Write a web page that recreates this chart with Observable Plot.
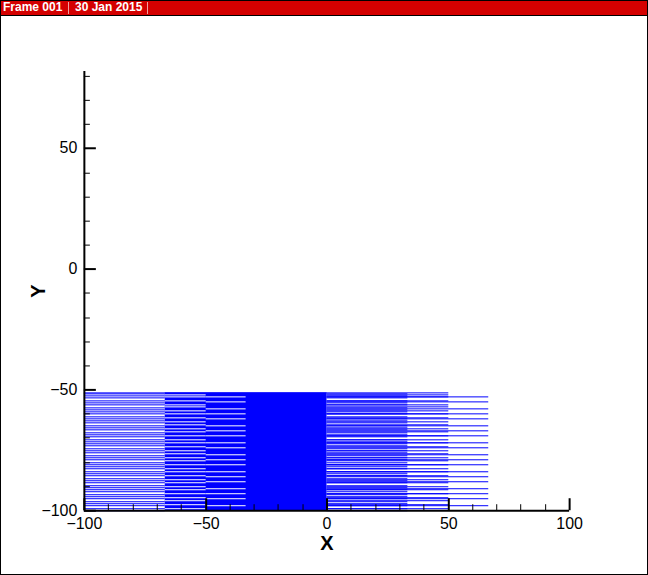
<!DOCTYPE html>
<html><head><meta charset="utf-8">
<script src="https://cdn.jsdelivr.net/npm/d3@7"></script>
<script src="https://cdn.jsdelivr.net/npm/@observablehq/plot@0.6"></script>
<style>
html,body{margin:0;padding:0;background:#fff;}
#frame{position:relative;width:648px;height:575px;box-sizing:border-box;border:1px solid #000;overflow:hidden;font-family:"Liberation Sans",Arial,sans-serif;}
#chart{position:absolute;left:-1px;top:-1px;}
#bar{position:absolute;left:-1px;top:-1px;width:648px;height:15px;background:#d40000;border-bottom:1px solid #000;color:#fff;font-weight:bold;font-size:12px;line-height:15px;white-space:nowrap;}
#bar span{position:absolute;top:0;}
#bar .sep{top:2px;width:0;height:12px;border-left:1px solid #f2a0a0;}
</style></head><body>
<div id="frame"><div id="chart"></div>
<div id="bar"><span style="left:3px">Frame 001</span><span class="sep" style="left:68px"></span><span style="left:75px">30 Jan 2015</span><span class="sep" style="left:147px"></span></div>
</div>
<script>
// mesh block edges along X (zones)
const meshX = [-100, -66.7, -50, -33.3, 0, 33.3, 50, 66.7];
const meshTop = -51;
const meshBottom = -100;
// horizontal mesh lines (Y)
const yFine = [-51.5,-52.5,-53.4,-54.3,-55.3,-56.2,-57.2,-58.1,-59.1,-60.0,-61.0,-61.9,-62.9,-63.8,-64.8,-65.7,-66.7,-67.6,-68.6,-69.5,-70.5,-71.4,-72.4,-73.3,-74.3,-75.2,-76.2,-77.1,-78.1,-79.0,-80.0,-80.9,-81.9,-82.8,-83.8,-84.7,-85.7,-86.6,-87.6,-88.5,-89.5,-90.4,-91.4,-92.3,-93.3,-94.2,-95.2,-96.1,-97.1,-98.0,-99.0,-99.9];
const yMid = [-52,-53,-54.5,-56,-57,-58.5,-60,-61.5,-63,-64.5,-66,-67.5,-69,-70.5,-72,-73.5,-75,-76.5,-78,-79.5,-81,-82.5,-84,-85.5,-87,-88.5,-90,-91.5,-93,-94.5,-96,-97.5,-99];
const yCoarse = [-53,-55,-58,-60,-62,-65,-67,-69,-72,-74,-77,-79,-81,-84,-86,-88,-91,-93,-95,-98];
// axis ticks
const xMajor = [-100, -50, 0, 50, 100];
const xMinor = [-90,-80,-70,-60,-40,-30,-20,-10,10,20,30,40,60,70,80,90];
const yMajor = [-100, -50, 0, 50];
const yMinor = [-90,-80,-70,-60,-40,-30,-20,-10,10,20,30,40,60,70,80];
const xTitle = "X", yTitle = "Y";

const blue = "#0000ff";
const solid = [{x1: meshX[1], x2: meshX[4], y1: meshBottom, y2: meshTop}];

const chart = Plot.plot({
  width: 648, height: 575,
  marginLeft: 84, marginRight: 78, marginTop: 71, marginBottom: 64,
  x: {domain: [-100, 100], round: true},
  y: {domain: [-100, 82], round: true},
  style: {fontFamily: "'Liberation Sans', Arial, sans-serif", fontSize: "16px", background: "transparent", color: "#000"},
  marks: [
    Plot.rect(solid, {x1: "x1", x2: "x2", y1: "y1", y2: "y2", fill: blue}),
    Plot.ruleY(yMid, {x1: meshX[1], x2: meshX[2], stroke: "#fff"}),
    Plot.ruleY(yCoarse, {x1: meshX[2], x2: meshX[3], stroke: "#fff"}),
    Plot.ruleY(yFine, {x1: meshX[0], x2: meshX[1], stroke: blue}),
    Plot.ruleY(yFine, {x1: meshX[4], x2: meshX[5], stroke: blue}),
    Plot.ruleY(yMid, {x1: meshX[4], x2: meshX[6], stroke: blue}),
    Plot.ruleY(yCoarse, {x1: meshX[4], x2: meshX[7], stroke: blue}),
    Plot.ruleY([meshTop], {x1: meshX[0], x2: meshX[6], stroke: blue}),
    // axes
    Plot.ruleX([-100], {stroke: "#000", strokeWidth: 2}),
    Plot.ruleY([-100], {stroke: "#000", strokeWidth: 2}),
    Plot.axisX({ticks: xMajor, tickSize: 12, dy: -12, tickFormat: () => "", label: null, strokeWidth: 2}),
    Plot.axisX({ticks: xMinor, tickSize: 6, dy: -6, tickFormat: () => "", label: null, strokeWidth: 1}),
    Plot.axisY({ticks: yMajor, tickSize: 12, dx: 12, tickFormat: () => "", label: null, strokeWidth: 2}),
    Plot.axisY({ticks: yMinor, tickSize: 6, dx: 6, tickFormat: () => "", label: null, strokeWidth: 1}),
    Plot.axisX({ticks: xMajor, tickSize: 0, tickPadding: 7, label: null, fontSize: 16}),
    Plot.axisY({ticks: yMajor, tickSize: 0, tickPadding: 7, label: null, fontSize: 16}),
    Plot.text([xTitle], {frameAnchor: "bottom", dy: 33, lineAnchor: "middle", textAnchor: "middle", fontSize: 20, fontWeight: "bold", text: d => d}),
    Plot.text([yTitle], {frameAnchor: "left", dx: -46, rotate: -90, lineAnchor: "middle", textAnchor: "middle", fontSize: 20, fontWeight: "bold", text: d => d})
  ]
});
document.getElementById("chart").append(chart);
</script>
</body></html>
